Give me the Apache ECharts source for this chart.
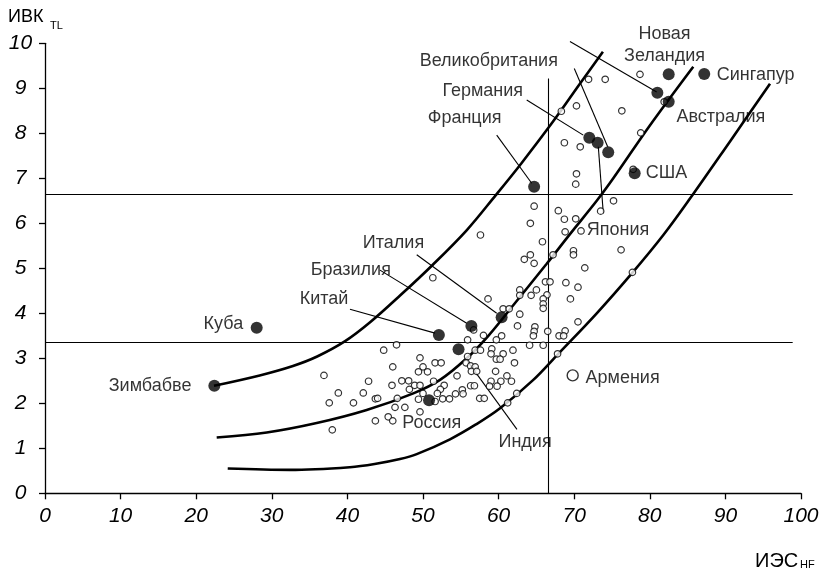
<!DOCTYPE html>
<html>
<head>
<meta charset="utf-8">
<script src="https://cdn.jsdelivr.net/npm/echarts@6/dist/echarts.min.js"></script>
<style>html,body{margin:0;padding:0;background:#fff}#c{width:827px;height:573px}</style>
</head>
<body>
<div id="c"></div>
<script>
// Axis ticks
const xTicks = [0, 10, 20, 30, 40, 50, 60, 70, 80, 90, 100];
const yTicks = [0, 1, 2, 3, 4, 5, 6, 7, 8, 9, 10];

// Other countries (small open circles): [ИЭС_HF, ИВК_TL]
const otherCountries = [
  [70.2,6.87],[64.7,6.38],[67.9,6.28],[68.7,6.09],[70.2,6.10],[73.5,6.27],[75.2,6.50],[64.2,6.00],
  [68.8,5.81],[70.9,5.83],[57.6,5.74],[65.8,5.59],[76.2,5.41],[69.9,5.39],[69.9,5.30],[67.2,5.30],
  [64.2,5.30],[63.4,5.20],[64.7,5.11],[71.4,5.01],[77.7,4.91],[51.3,4.79],[66.2,4.70],[66.8,4.70],
  [68.9,4.68],[70.5,4.58],[62.8,4.52],[65.0,4.52],[62.8,4.40],[64.3,4.40],[66.4,4.41],[65.9,4.32],
  [69.5,4.32],[58.6,4.32],[65.9,4.21],[65.9,4.11],[60.6,4.10],[61.4,4.10],[62.8,3.98],[70.5,3.81],
  [62.5,3.72],[64.8,3.70],[56.7,3.63],[68.8,3.61],[66.5,3.60],[64.7,3.60],[60.4,3.50],[58.0,3.51],
  [64.6,3.50],[68.0,3.50],[68.6,3.50],[59.7,3.41],[55.9,3.41],[46.5,3.30],[64.1,3.29],[65.9,3.29],
  [44.8,3.18],[56.9,3.18],[57.6,3.18],[59.1,3.21],[61.9,3.18],[59.0,3.10],[60.6,3.10],[67.8,3.10],
  [55.9,3.04],[49.6,3.01],[59.7,2.98],[60.2,2.98],[51.6,2.90],[52.4,2.90],[55.7,2.90],[62.1,2.90],
  [46.0,2.81],[50.0,2.81],[56.3,2.83],[56.9,2.81],[49.4,2.70],[50.6,2.70],[56.4,2.71],[57.1,2.71],
  [59.6,2.71],[36.9,2.62],[54.5,2.61],[61.1,2.61],[42.8,2.49],[47.2,2.50],[48.1,2.50],[51.4,2.49],
  [59.0,2.49],[60.3,2.49],[61.7,2.49],[45.9,2.40],[48.9,2.40],[49.6,2.40],[52.8,2.40],[56.3,2.39],
  [56.8,2.39],[58.8,2.38],[59.8,2.38],[38.8,2.23],[42.1,2.23],[48.2,2.31],[52.3,2.31],[50.0,2.22],
  [51.9,2.22],[54.3,2.21],[55.2,2.30],[55.3,2.21],[62.4,2.22],[37.6,2.01],[40.8,2.01],[43.7,2.10],
  [44.0,2.11],[46.6,2.11],[49.4,2.09],[51.6,2.04],[52.6,2.10],[53.5,2.10],[57.5,2.11],[58.1,2.11],
  [61.2,2.01],[46.3,1.91],[47.6,1.91],[49.6,1.81],[43.7,1.61],[45.4,1.70],[46.0,1.61],[38.0,1.41],
  [78.7,9.31],[71.9,9.20],[74.1,9.20],[68.3,8.49],[70.3,8.61],[76.3,8.50],[81.9,8.70],[78.8,8.01],
  [68.7,7.79],[70.8,7.70],[70.3,7.10],[77.8,7.20]
];

// Highlighted countries (filled circles)
const namedCountries = ['Зимбабве','Куба','Китай','Бразилия','Италия','Индия','Россия','Франция','Германия','Япония','Великобритания','Канада','Новая Зеландия','Австралия','Сингапур','США'];
const namedX = [22.4, 28.0, 52.1, 56.4, 60.4, 54.7, 50.8, 64.7, 72.0, 73.1, 74.5, 81.0, 82.5, 82.5, 87.2, 78.0];
const namedY = [2.39, 3.68, 3.52, 3.72, 3.91, 3.20, 2.07, 6.81, 7.90, 7.79, 7.58, 8.90, 9.31, 8.70, 9.32, 7.11];

// Armenia (large open circle)
const armenia = [69.8, 2.62];

// Curves
const curveUpper = [[22.35,2.39],[28.4,2.62],[32.8,2.83],[36,3.04],[39.7,3.38],[43,3.80],[47,4.40],[51.3,5.08],[55.8,5.85],[59.6,6.62],[63,7.33],[67.2,8.26],[70.8,9.11],[73.8,9.81]];
const curveMiddle = [[22.71,1.24],[29.33,1.35],[35.94,1.56],[42.55,1.85],[48.72,2.22],[52.25,2.52],[55.78,3.00],[58.64,3.50],[61.94,4.18],[66.36,5.10],[69.44,5.76],[72.98,6.50],[75.17,7.00],[80.03,8.18],[85.75,9.48]];
const curveLower = [[24.17,0.55],[32.41,0.52],[40.34,0.58],[43.6,0.65],[46.96,0.76],[49.17,0.87],[53.57,1.20],[57,1.53],[60.19,1.89],[64.59,2.52],[67.9,3.10],[72.98,4.00],[77.74,4.91],[81.79,5.74],[85.32,6.55],[90.61,7.82],[95.9,9.10]];

// Threshold lines
const thresholdLines = [
  [[0, 6.65], [98.9, 6.65]],
  [[0, 3.35], [98.9, 3.35]],
  [[66.6, 0], [66.6, 9.22]]
];

// Leader lines from labels to points
const leaderLines = [
  [[69.44,10.04],[80.91,8.92]],
  [[70.01,9.44],[74.43,7.70]],
  [[63.72,8.74],[71.20,7.96]],
  [[59.75,7.96],[64.38,6.89]],
  [[73.19,7.70],[73.85,6.22]],
  [[49.17,5.30],[59.75,4.00]],
  [[44.31,4.96],[55.78,3.78]],
  [[40.34,4.09],[51.59,3.56]],
  [[55.78,2.96],[62.43,1.42]]
];

// Label anchors (text centre, data units)
const labelText = ['Канада','Новая\nЗеландия','Великобритания','Германия','Франция','Сингапур','Австралия','США','Япония','Италия','Бразилия','Китай','Куба','Зимбабве','Россия','Индия','Армения'];
const labelX = [65.25, 81.95, 58.7, 57.9, 55.5, 94.0, 89.4, 82.2, 75.8, 46.1, 40.45, 36.9, 23.6, 13.9, 51.15, 63.5, 76.4];
const labelY = [10.26, 9.97, 9.61, 8.95, 8.33, 9.30, 8.37, 7.12, 5.85, 5.56, 4.96, 4.31, 3.76, 2.39, 1.56, 1.15, 2.56];

const FONT = 'Liberation Sans, Arial, Helvetica, sans-serif';

const chart = echarts.init(document.getElementById('c'), null, {renderer: 'canvas'});
const curveStyle = {type: 'line', smooth: 0.35, symbol: 'none', clip: false, z: 2,
  lineStyle: {color: '#000', width: 2.6}, silent: true};

chart.setOption({
  animation: false,
  backgroundColor: '#fff',
  title: [
    {text: 'ИВК', left: 8, top: 8, padding: 0, textStyle: {fontFamily: FONT, fontSize: 18, fontWeight: 'normal', color: '#000'}},
    {text: 'TL', left: 50, top: 20, padding: 0, textStyle: {fontFamily: FONT, fontSize: 11, fontWeight: 'normal', color: '#000'}},
    {text: 'ИЭС', left: 755, top: 551, padding: 0, textStyle: {fontFamily: FONT, fontSize: 20, fontWeight: 'normal', color: '#000'}},
    {text: 'HF', left: 800, top: 559, padding: 0, textStyle: {fontFamily: FONT, fontSize: 11, fontWeight: 'normal', color: '#000'}}
  ],
  grid: {left: 45, right: 26, top: 43.3, bottom: 79.7},
  xAxis: {
    type: 'value', min: xTicks[0], max: xTicks[xTicks.length - 1], interval: xTicks[1] - xTicks[0],
    axisLine: {lineStyle: {color: '#000', width: 1.3}},
    axisTick: {length: 6, lineStyle: {color: '#000', width: 1.3}},
    splitLine: {show: false},
    axisLabel: {color: '#000', fontSize: 21, fontStyle: 'italic', fontFamily: FONT, margin: 12}
  },
  yAxis: {
    type: 'value', min: yTicks[0], max: yTicks[yTicks.length - 1], interval: yTicks[1] - yTicks[0],
    axisLine: {show: true, lineStyle: {color: '#000', width: 1.3}},
    axisTick: {show: true, length: 6, lineStyle: {color: '#000', width: 1.3}},
    splitLine: {show: false},
    axisLabel: {color: '#000', fontSize: 21, fontStyle: 'italic', fontFamily: FONT, margin: 24.5, align: 'center'}
  },
  series: [
    {type: 'lines', coordinateSystem: 'cartesian2d', clip: false, silent: true, z: 1,
      lineStyle: {color: '#000', width: 1.1, opacity: 1},
      data: thresholdLines.map(c => ({coords: c}))},
    Object.assign({data: curveUpper}, curveStyle),
    Object.assign({data: curveMiddle}, curveStyle),
    Object.assign({data: curveLower}, curveStyle),
    {type: 'lines', coordinateSystem: 'cartesian2d', clip: false, silent: true, z: 3,
      lineStyle: {color: '#000', width: 1.1, opacity: 1},
      data: leaderLines.map(c => ({coords: c}))},
    {type: 'scatter', z: 5, silent: true, symbol: 'circle', symbolSize: 6.5,
      itemStyle: {color: '#fff', borderColor: '#000', borderWidth: 1.2},
      data: otherCountries},
    {type: 'scatter', z: 6, silent: true, symbol: 'circle', symbolSize: 11,
      itemStyle: {color: '#fff', borderColor: '#000', borderWidth: 1.4},
      data: [armenia]},
    {type: 'scatter', z: 6, silent: true, symbol: 'circle', symbolSize: 12,
      itemStyle: {color: '#000'},
      data: namedCountries.map((n, i) => ({name: n, value: [namedX[i], namedY[i]]}))},
    {type: 'scatter', z: 7, silent: true, symbol: 'circle', symbolSize: 1,
      itemStyle: {color: 'rgba(0,0,0,0)'},
      label: {show: true, position: 'inside', formatter: p => p.name, color: '#000',
        fontFamily: FONT, fontSize: 18, lineHeight: 22, align: 'center', verticalAlign: 'middle'},
      data: labelText.map((t, i) => ({name: t, value: [labelX[i], labelY[i]]}))}
  ]
});
</script>
</body>
</html>
